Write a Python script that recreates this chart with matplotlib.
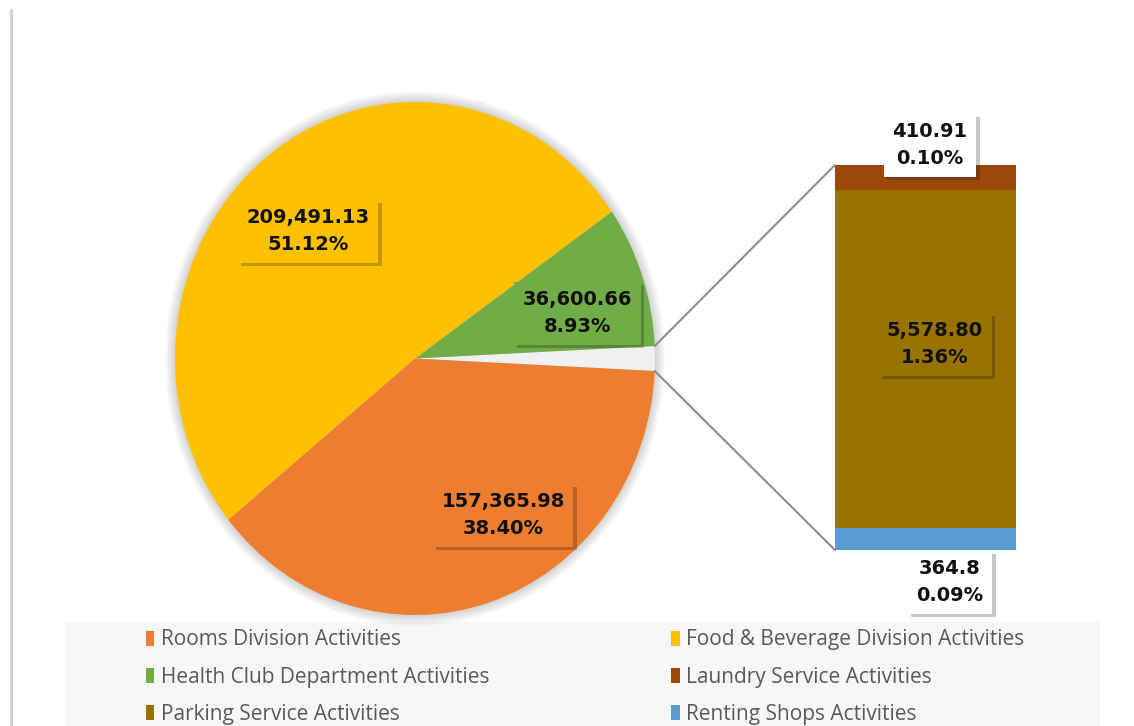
import numpy as np
import matplotlib.pyplot as plt
import matplotlib.patheffects as pe
from matplotlib.patches import ConnectionPatch, Patch, Rectangle, Ellipse

# main pie slices
main_labels = ['Rooms Division Activities', 'Food & Beverage Division Activities',
               'Health Club Department Activities']
main_values = [157365.98, 209491.13, 36600.66]
main_text = ['157,365.98', '209,491.13', '36,600.66']
main_colors = ['#ED7D31', '#FFC000', '#70AD47']

# stacked bar (bottom -> top)
bar_labels = ['Renting Shops Activities', 'Parking Service Activities', 'Laundry Service Activities']
bar_values = [364.8, 5578.80, 410.91]
bar_text = ['364.8', '5,578.80', '410.91']
bar_colors = ['#5B9BD5', '#997300', '#9E480E']

W, H = 1134, 726
total = sum(main_values) + sum(bar_values)
other = sum(bar_values)

fig = plt.figure(figsize=(W / 100, H / 100), dpi=100)

# background overlay in pixel coords
bg = fig.add_axes([0, 0, 1, 1])
bg.set_xlim(0, W)
bg.set_ylim(0, H)
bg.axis('off')
bg.plot([11, 11], [0, H - 10], color='#d0d0d0', lw=2)
bg.add_patch(Rectangle((65, 0), 1035, 104, facecolor='#f7f7f7', edgecolor='none'))

# pie (slightly taller than wide, like the reference)
pax = fig.add_axes([175 / W, (H - 615) / H, 480 / W, 513 / H])
# soft glow around the pie
for k in range(8):
    pax.add_patch(Ellipse((0, 0), 2 + 0.012 * k, 2 + 0.012 * k, facecolor='#000000',
                          alpha=0.025, edgecolor='none', clip_on=False, zorder=0))
other_frac = other / total
sizes = [other, main_values[2], main_values[1], main_values[0]]
cols = ['#f0f0f0', main_colors[2], main_colors[1], main_colors[0]]
wedges, _ = pax.pie(sizes, colors=cols, startangle=-other_frac * 180, counterclock=True,
                    radius=1, wedgeprops=dict(linewidth=0))
for w in wedges:
    w.set_zorder(2)
pax.set_xlim(-1, 1)
pax.set_ylim(-1, 1)
pax.set_aspect('auto')
pax.axis('off')

# bar of the "other" slice
bax = fig.add_axes([835 / W, (H - 550) / H, 181 / W, 385 / H])
bottom = 0
for v, c in zip(bar_values, bar_colors):
    bax.bar(0, v, width=1, bottom=bottom, color=c, linewidth=0)
    bottom += v
bax.set_xlim(-0.5, 0.5)
bax.set_ylim(0, other)
bax.axis('off')

# connector lines
a = np.radians(other_frac * 180)
for sgn, yb in [(1, other), (-1, 0)]:
    con = ConnectionPatch(xyA=(np.cos(a), sgn * np.sin(a)), coordsA=pax.transData,
                          xyB=(-0.5, yb), coordsB=bax.transData,
                          color='#8c8c8c', lw=1.5)
    fig.add_artist(con)

shadow = [pe.SimplePatchShadow(offset=(2.5, -2.5), shadow_rgbFace='black', alpha=0.22), pe.Normal()]


def label(x, y, s, face):
    t = fig.text(x / W, (H - y) / H, s, ha='center', va='center', fontsize=14,
                 fontweight='bold', color='#111111', linespacing=1.5,
                 bbox=dict(boxstyle='square,pad=0.45', facecolor=face, edgecolor='none'))
    t.get_bbox_patch().set_path_effects(shadow)


pcts = [v / total * 100 for v in main_values]
main_pos = [(503, 515), (308, 231), (577, 313)]
for (x, y), s, p, c in zip(main_pos, main_text, pcts, main_colors):
    label(x, y, f'{s}\n{p:.2f}%', c)

bar_pos = [(950, 582), (935, 344), (930, 145)]
bar_faces = ['white', bar_colors[1], 'white']
for (x, y), s, v, c in zip(bar_pos, bar_text, bar_values, bar_faces):
    label(x, y, f'{s}\n{v / total * 100:.2f}%', c)

# legend, filled row by row
all_labels = main_labels + bar_labels[::-1]
all_colors = main_colors + bar_colors[::-1]
order = [0, 2, 4, 1, 3, 5]
handles = [Patch(facecolor=all_colors[i], edgecolor='none', label=all_labels[i]) for i in order]
fig.legend(handles=handles, ncol=2, loc='center', mode='expand',
           bbox_to_anchor=(146 / W, 49 / H, 878 / W, 0), frameon=False,
           borderpad=0, borderaxespad=0, handlelength=0.4, handleheight=0.75,
           handletextpad=0.3, labelspacing=0.77,
           prop=dict(family='Open Sans', size=15), labelcolor='#595959')

fig.savefig('out.png', dpi=100)
